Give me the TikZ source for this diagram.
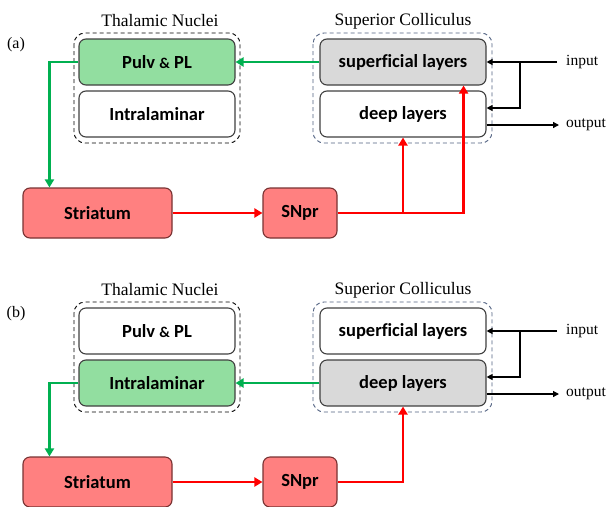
\documentclass[tikz,border=0pt]{standalone}
\usepackage{fontspec}
\setmainfont{Liberation Serif}
\setsansfont{Carlito}[Ligatures=CommonOff]
\usetikzlibrary{arrows.meta,calc}
\definecolor{gfill}{RGB}{146,222,160}
\definecolor{rfill}{RGB}{255,128,128}
\definecolor{grayfill}{RGB}{217,217,217}
\definecolor{gline}{RGB}{0,176,80}
\definecolor{rline}{RGB}{255,0,0}
\definecolor{bline}{RGB}{64,64,64}
\definecolor{scdash}{RGB}{80,96,128}
\newcommand{\smallamp}{{\fontsize{15}{18}\selectfont\&}}
\tikzset{
  box/.style={draw=bline,line width=1.1pt,rounded corners=7pt,minimum width=156pt,minimum height=46pt,inner sep=0pt,font=\sffamily\bfseries\fontsize{18.5}{20}\selectfont},
  scbox/.style={box,minimum width=166pt},
  redbox/.style={box,fill=rfill,draw={rgb,255:red,120;green,50;blue,50},minimum height=50pt},
  grp/.style={draw,dashed,line width=0.9pt,rounded corners=11pt,dash pattern=on 4pt off 3pt},
  title/.style={font=\fontsize{17.5}{20}\selectfont},
  io/.style={font=\fontsize{15.5}{18}\selectfont,anchor=west,inner sep=1pt},
  panel/.style={font=\fontsize{16}{18}\selectfont},
  garrow/.style={draw=gline,line width=2.8pt,-{Triangle[length=8pt,width=9pt]}},
  rarrow/.style={draw=rline,line width=2.8pt,-{Triangle[length=8pt,width=9pt]}},
  karrow/.style={draw=black,line width=1.3pt,-{Triangle[length=6pt,width=6pt]}},
}
\begin{document}
\begin{tikzpicture}[x=1pt,y=-1pt]
\useasboundingbox (0,0) rectangle (609,506);
% ===== panel (a) =====
\begin{scope}
\node[panel] (la) at (16,45) {(a)};
\node[title] (tha) at (160,21) {Thalamic Nuclei};
\node[title] (sca) at (403,21) {Superior Colliculus};
\draw[grp,draw=black] (74,33) rectangle (240,143);
\draw[grp,draw=scdash] (313,33) rectangle (492,143);
\node[box,fill=gfill] (pulva) at (157,62) {Pulv \smallamp{} PL};
\node[box,fill=white] (intra) at (157,114) {Intralaminar};
\node[scbox,fill=grayfill] (supa) at (403,62) {superficial layers};
\node[scbox,fill=white] (deepa) at (403,114) {deep layers};
\node[redbox,minimum width=149pt] (stra) at (97.5,213) {Striatum};
\node[redbox,minimum width=74pt] (snpa) at (300,213) {SNpr};
\node[io] (ina) at (565,62) {input};
\node[io] (outa) at (565,125) {output};
\coordinate (bra) at (520,62);
\path[garrow] (supa.west) -- (pulva.east);
\path[garrow] (pulva.west) -| ([xshift=27pt]stra.north west);
\path[rarrow] (stra.east) -- (snpa.west);
\path[rarrow] (snpa.east) -| ([xshift=-23pt]supa.south east);
\path[rarrow] (snpa.east -| deepa.south) -- (deepa.south);
\path[karrow] ([xshift=-8pt]ina.west) -- (supa.east);
\path[karrow] (bra) |- ([yshift=6pt]deepa.east);
\path[karrow] ([yshift=-11pt]deepa.east) -- ([xshift=-6pt]outa.west);
\end{scope}
% ===== panel (b) =====
\begin{scope}[yshift=-269pt]
\node[panel] (lb) at (16,45) {(b)};
\node[title] (thb) at (160,21) {Thalamic Nuclei};
\node[title] (scb) at (403,21) {Superior Colliculus};
\draw[grp,draw=black] (74,33) rectangle (240,143);
\draw[grp,draw=scdash] (313,33) rectangle (492,143);
\node[box,fill=white] (pulvb) at (157,62) {Pulv \smallamp{} PL};
\node[box,fill=gfill] (intrb) at (157,114) {Intralaminar};
\node[scbox,fill=white] (supb) at (403,62) {superficial layers};
\node[scbox,fill=grayfill] (deepb) at (403,114) {deep layers};
\node[redbox,minimum width=149pt] (strb) at (97.5,213) {Striatum};
\node[redbox,minimum width=74pt] (snpb) at (300,213) {SNpr};
\node[io] (inb) at (565,62) {input};
\node[io] (outb) at (565,125) {output};
\coordinate (brb) at (520,62);
\path[garrow] (deepb.west) -- (intrb.east);
\path[garrow] (intrb.west) -| ([xshift=27pt]strb.north west);
\path[rarrow] (strb.east) -- (snpb.west);
\path[rarrow] (snpb.east) -| (deepb.south);
\path[karrow] ([xshift=-8pt]inb.west) -- (supb.east);
\path[karrow] (brb) |- ([yshift=6pt]deepb.east);
\path[karrow] ([yshift=-11pt]deepb.east) -- ([xshift=-6pt]outb.west);
\end{scope}
\end{tikzpicture}
\end{document}
